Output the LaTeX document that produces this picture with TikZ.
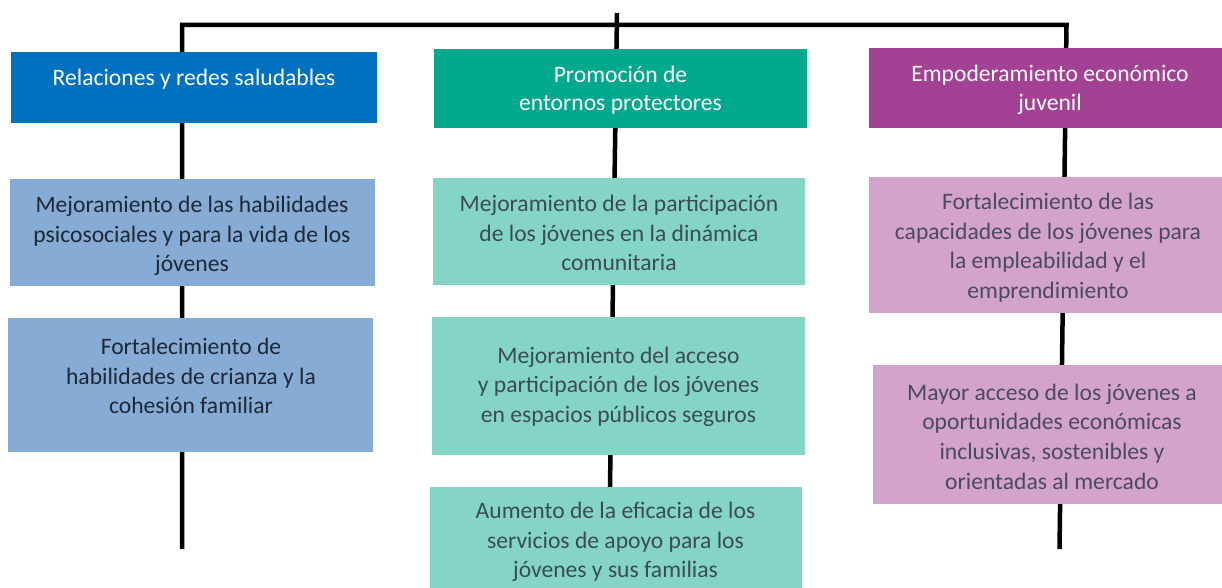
\documentclass[tikz,border=0pt]{standalone}
\usepackage{fontspec}
\setmainfont{Carlito}
\definecolor{hblue}{HTML}{0070C0}
\definecolor{hteal}{HTML}{00A88E}
\definecolor{hpurp}{HTML}{A34294}
\definecolor{lblue}{HTML}{86ABD4}
\definecolor{lteal}{HTML}{84D4C8}
\definecolor{lpurp}{HTML}{D4A3CC}
\definecolor{tblue}{HTML}{1E2836}
\definecolor{tteal}{HTML}{3B4B58}
\definecolor{tpurp}{HTML}{4A4A60}
\tikzset{
  boxshape/.style={rectangle, inner sep=0pt, draw=none},
  headtext/.style={align=center, inner sep=0pt, text=white, font=\fontsize{23.6}{28.5}\selectfont},
  bodytext/.style={align=center, inner sep=0pt, font=\fontsize{23.6}{29.6}\selectfont},
  trunk/.style={line width=4.5pt, black, line join=miter},
}
\begin{document}
\begin{tikzpicture}[x=1pt,y=-1pt]
\useasboundingbox (0,0) rectangle (1222,588);
\clip (0,0) rectangle (1222,588);
% connector end points
\coordinate (Lbot) at (182,549);
\coordinate (Ltop) at (182,25);
\coordinate (Rtop) at (1066.5,25);
\coordinate (Rbot) at (1059.5,549);
\coordinate (Mtop) at (617,13);
\coordinate (Mbot) at (609.5,520);
\draw[trunk] (Lbot) -- (Ltop) -- (Rtop) -- (Rbot);
\draw[trunk] (Mtop) -- (Mbot);
% headers
\node[boxshape, fill=hblue, minimum width=366, minimum height=71] (h1) at (194,87.5) {};
\node[boxshape, fill=hteal, minimum width=373, minimum height=79] (h2) at (620.5,88.5) {};
\node[boxshape, fill=hpurp, minimum width=362, minimum height=80] (h3) at (1050,88) {};
\node[headtext] (h1t) at (194,79) {Relaciones y redes saludables};
\node[headtext] (h2t) at (620.5,90) {Promoción de\\entornos protectores};
\node[headtext] (h3t) at (1050,89.7) {Empoderamiento económico\\juvenil};
% left column
\node[boxshape, fill=lblue, minimum width=365, minimum height=107] (a) at (192.5,232.5) {};
\node[boxshape, fill=lblue, minimum width=365, minimum height=134] (b) at (190.5,385) {};
\node[bodytext, text=tblue] (at) at (192,236) {Mejoramiento de las habilidades\\psicosociales y para la vida de los\\jóvenes};
\node[bodytext, text=tblue] (bt) at (191,376) {Fortalecimiento de\\habilidades de crianza y la\\cohesión familiar};
% middle column
\node[boxshape, fill=lteal, minimum width=372, minimum height=107] (m1) at (619,231.5) {};
\node[boxshape, fill=lteal, minimum width=373, minimum height=138] (m2) at (618.5,386) {};
\node[boxshape, fill=lteal, minimum width=372, minimum height=113] (m3) at (616,543.5) {};
\node[bodytext, text=tteal] (m1t) at (619,233) {Mejoramiento de la participación\\de los jóvenes en la dinámica\\comunitaria};
\node[bodytext, text=tteal] (m2t) at (618.5,386.7) {Mejoramiento del acceso\\y participación de los jóvenes\\en espacios públicos seguros};
\node[bodytext, text=tteal] (m3t) at (615.5,542) {Aumento de la eficacia de los\\servicios de apoyo para los\\jóvenes y sus familias};
% right column
\node[boxshape, fill=lpurp, minimum width=362, minimum height=136] (r1) at (1050,245) {};
\node[boxshape, fill=lpurp, minimum width=358, minimum height=139] (r2) at (1052,434.5) {};
\node[bodytext, text=tpurp] (r1t) at (1048,247.7) {Fortalecimiento de las\\capacidades de los jóvenes para\\la empleabilidad y el\\emprendimiento};
\node[bodytext, text=tpurp] (r2t) at (1052,436.5) {Mayor acceso de los jóvenes a\\oportunidades económicas\\inclusivas, sostenibles y\\orientadas al mercado};
\end{tikzpicture}
\end{document}
